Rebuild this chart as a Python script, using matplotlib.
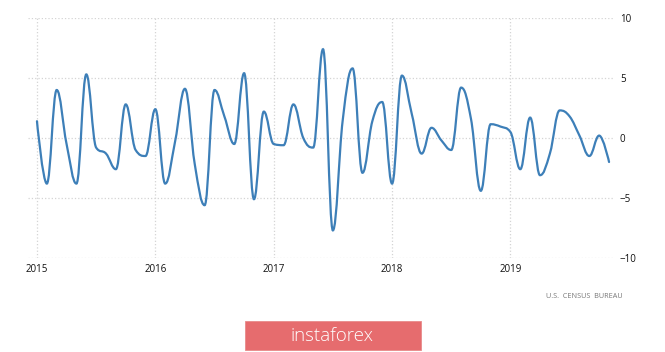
import numpy as np
import matplotlib.pyplot as plt
from matplotlib.path import Path
from matplotlib.patches import PathPatch, Rectangle

# monthly values, Jan 2015 .. Nov 2019
values = [1.4, -3.8, 4.0, -0.5, -3.8, 5.3, -0.8, -1.3, -2.6, 2.8, -1.0, -1.5,
          2.4, -3.8, -0.3, 4.1, -2.2, -5.6, 4.0, 1.8, -0.5, 5.4, -5.1, 2.2,
          -0.5, -0.6, 2.8, 0.0, -0.8, 7.4, -7.7, 1.5, 5.8, -2.9, 1.4, 3.0,
          -3.8, 5.2, 2.0, -1.3, 0.85, -0.2, -1.0, 4.2, 1.6, -4.4, 1.15, 0.95,
          0.5, -2.6, 1.7, -3.1, -1.3, 2.3, 1.8, 0.2, -1.5, 0.2, -2.0]
year_labels = ["2015", "2016", "2017", "2018", "2019"]
y_ticks = [-10, -5, 0, 5, 10]
source = "U.S.  CENSUS  BUREAU"
brand = "instaforex"


def spline_path(x, y, smoothing=1.5):
    # bezier spline that peaks exactly on the points (no overshoot)
    n = len(x)
    d = smoothing + 1
    lc = [(x[i], y[i]) for i in range(n)]
    rc = [(x[i], y[i]) for i in range(n)]
    for i in range(1, n - 1):
        px, py = x[i], y[i]
        lx, ly = x[i - 1], y[i - 1]
        nx, ny = x[i + 1], y[i + 1]
        lcx, lcy = (smoothing * px + lx) / d, (smoothing * py + ly) / d
        rcx, rcy = (smoothing * px + nx) / d, (smoothing * py + ny) / d
        if rcx != lcx:
            corr = (rcy - lcy) * (rcx - px) / (rcx - lcx) + py - rcy
            lcy += corr
            rcy += corr
        if lcy > ly and lcy > py:
            lcy = max(ly, py)
            rcy = 2 * py - lcy
        elif lcy < ly and lcy < py:
            lcy = min(ly, py)
            rcy = 2 * py - lcy
        if rcy > ny and rcy > py:
            rcy = max(ny, py)
            lcy = 2 * py - rcy
        elif rcy < ny and rcy < py:
            rcy = min(ny, py)
            lcy = 2 * py - rcy
        lc[i] = (lcx, lcy)
        rc[i] = (rcx, rcy)
    verts = [(x[0], y[0])]
    codes = [Path.MOVETO]
    for i in range(1, n):
        verts += [rc[i - 1], lc[i], (x[i], y[i])]
        codes += [Path.CURVE4] * 3
    return Path(verts, codes)


plt.rcParams['font.family'] = ['Open Sans', 'DejaVu Sans']

fig = plt.figure(figsize=(6.65, 3.52), dpi=100)
ax = fig.add_axes([28 / 665, 94 / 352, 585 / 665, 240 / 352])

months = np.arange(len(values))
ax.add_patch(PathPatch(spline_path(months, values), facecolor='none',
                       edgecolor='#3d7fb8', lw=1.6, capstyle='round', zorder=3))

ax.set_xlim(-0.91, 58.4)
ax.set_ylim(-10, 10)
ax.set_xticks(np.arange(len(year_labels)) * 12)
ax.set_xticklabels(year_labels)
ax.set_yticks(y_ticks)
ax.yaxis.tick_right()
ax.tick_params(axis='both', length=0, labelsize=7, colors='#111111')
ax.tick_params(axis='y', pad=5)
ax.tick_params(axis='x', pad=4)
ax.grid(True, color='#d4d4d4', ls=':', lw=0.9)
for s in ax.spines.values():
    s.set_visible(False)

fig.text(584 / 665, 1 - 296 / 352, source, ha='center', va='center',
         fontsize=5.2, color='#777777')

box = Rectangle((245 / 665, 1 - 350 / 352), 176 / 665, 29 / 352,
                transform=fig.transFigure, facecolor='#e66c6e',
                edgecolor='#e88a8a', lw=0.6)
fig.patches.append(box)
fig.text(332 / 665, 1 - 336 / 352, brand, ha='center', va='center',
         fontsize=13.5, color='white', fontweight='light')

fig.savefig('out.png', dpi=100)
